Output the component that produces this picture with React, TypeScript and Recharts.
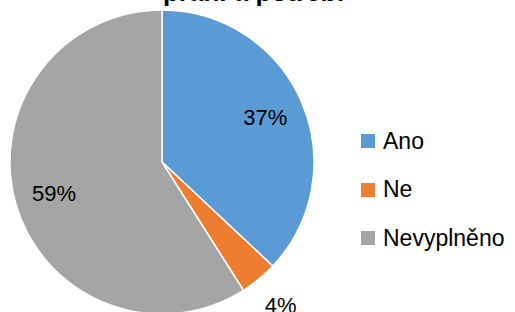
import React from "react";
import { PieChart, Pie, Cell, Legend } from "recharts";

const categories = ["Ano", "Ne", "Nevyplněno"];
const values = [37, 4, 59];
const colors = ["#5B9BD5", "#ED7D31", "#A5A5A5"];
const titleText = "přání a potřeb:";

const data = categories.map((name, i) => ({ name, value: values[i] }));
const total = values.reduce((a, b) => a + b, 0);
const FONT = "'Liberation Sans', Arial, sans-serif";
const RADIAN = Math.PI / 180;

const renderLabel = (props: any) => {
  const { cx, cy, midAngle, outerRadius, value } = props;
  const share = value / total;
  const r = share < 0.1 ? outerRadius + 34 : outerRadius * 0.74;
  const x = cx + r * Math.cos(-midAngle * RADIAN);
  const y = cy + r * Math.sin(-midAngle * RADIAN);
  return (
    <text
      x={x}
      y={y}
      fill="#000"
      textAnchor="middle"
      dominantBaseline="central"
      fontFamily={FONT}
      fontSize={22}
    >
      {Math.round(share * 100)}%
    </text>
  );
};

const renderLegend = (props: any) => {
  const { payload } = props;
  return (
    <div style={{ display: "flex", flexDirection: "column", gap: 0 }}>
      {payload.map((entry: any, i: number) => (
        <div
          key={i}
          style={{
            display: "flex",
            alignItems: "center",
            height: 48.5,
            fontFamily: FONT,
            fontSize: 23,
            color: "#000",
          }}
        >
          <span
            style={{
              display: "inline-block",
              width: 14,
              height: 14,
              background: entry.color,
              marginRight: 8,
            }}
          />
          {entry.value}
        </div>
      ))}
    </div>
  );
};

export default function App() {
  return (
    <div style={{ position: "absolute", left: 0, top: 0, width: 515, height: 312, background: "#fff", overflow: "hidden" }}>
      <div
        style={{
          position: "absolute",
          left: 254 - 150,
          width: 300,
          top: -23,
          textAlign: "center",
          fontFamily: FONT,
          fontWeight: "bold",
          fontSize: 26,
          lineHeight: "30px",
          color: "#000",
          whiteSpace: "nowrap",
        }}
      >
        {titleText}
      </div>
      <PieChart width={515} height={312} margin={{ top: 0, right: 0, bottom: 0, left: 0 }}>
        <Pie
          data={data}
          dataKey="value"
          nameKey="name"
          cx={162}
          cy={162}
          outerRadius={152}
          startAngle={90}
          endAngle={-270}
          stroke="#fff"
          strokeWidth={1.5}
          label={renderLabel}
          labelLine={false}
          isAnimationActive={false}
        >
          {data.map((d, i) => (
            <Cell key={d.name} fill={colors[i]} />
          ))}
        </Pie>
        <Legend
          layout="vertical"
          align="right"
          verticalAlign="top"
          content={renderLegend}
          wrapperStyle={{ left: 361, top: 117, width: 154 }}
        />
      </PieChart>
    </div>
  );
}
